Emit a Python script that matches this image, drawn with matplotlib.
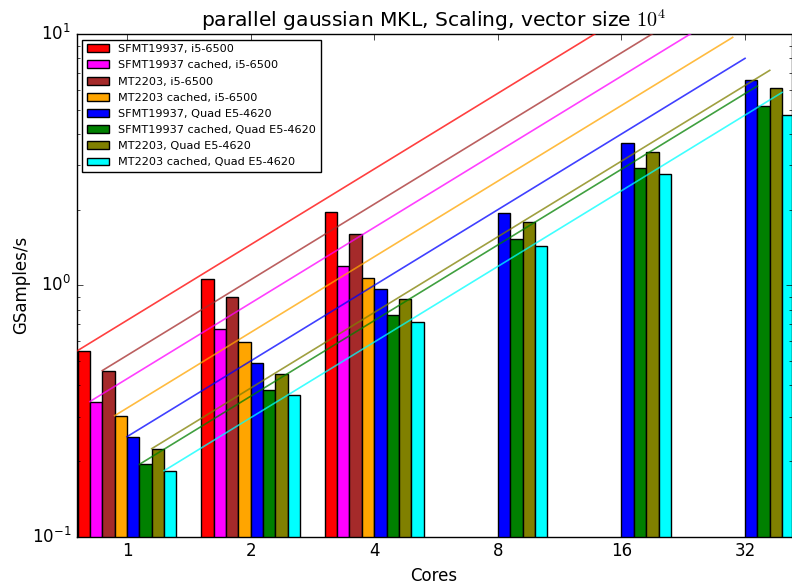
import numpy as np
import matplotlib
matplotlib.use("Agg")
import matplotlib.pyplot as plt

plt.style.use('classic')
plt.rcParams['figure.facecolor'] = 'white'
plt.rcParams['savefig.facecolor'] = 'white'

cores = [1, 2, 4, 8, 16, 32]
labels = [
    "SFMT19937, i5-6500",
    "SFMT19937 cached, i5-6500",
    "MT2203, i5-6500",
    "MT2203 cached, i5-6500",
    "SFMT19937, Quad E5-4620",
    "SFMT19937 cached, Quad E5-4620",
    "MT2203, Quad E5-4620",
    "MT2203 cached, Quad E5-4620",
]
colors = ["red", "magenta", "brown", "orange", "blue", "green", "olive", "cyan"]

sfmt_i5 = [0.55, 1.06, 1.96]
sfmt_cached_i5 = [0.345, 0.67, 1.19]
mt_i5 = [0.458, 0.90, 1.60]
mt_cached_i5 = [0.303, 0.594, 1.07]
sfmt_quad = [0.25, 0.49, 0.966, 1.94, 3.70, 6.55]
sfmt_cached_quad = [0.194, 0.383, 0.764, 1.53, 2.92, 5.17]
mt_quad = [0.224, 0.443, 0.884, 1.78, 3.40, 6.08]
mt_cached_quad = [0.183, 0.365, 0.718, 1.43, 2.77, 4.75]

series = [sfmt_i5, sfmt_cached_i5, mt_i5, mt_cached_i5,
          sfmt_quad, sfmt_cached_quad, mt_quad, mt_cached_quad]

W, H = 792, 584
fig = plt.figure(figsize=(W / 100, H / 100), dpi=100)
ax = fig.add_axes([76.7 / W, 1 - 536.7 / H, (791.5 - 76.7) / W, (536.7 - 34) / H])

pos = np.arange(len(cores))
width = 0.1
cores_arr = np.array(cores, dtype=float)
for k, (vals, col, lab) in enumerate(zip(series, colors, labels)):
    x = pos[:len(vals)] - 0.4 + k * width
    ax.bar(x, vals, width=width, align='edge', color=col, edgecolor='black',
           linewidth=1, label=lab, zorder=2)
    # ideal linear scaling from the 1-core value
    xl = pos - 0.4 + k * width
    ax.plot(xl, vals[0] * cores_arr / cores_arr[0], color=col, lw=1.2,
            alpha=0.75, zorder=3)

ax.set_yscale('log')
ax.set_ylim(0.1, 10)
ax.set_xlim(-0.407, 5.376)
ax.set_xticks(pos)
ax.set_xticklabels([str(c) for c in cores])
ax.tick_params(axis='both', which='both', direction='in', top=True, right=True)
ax.set_xlabel("Cores")
ax.set_ylabel("GSamples/s", labelpad=1)
ax.set_title(r"parallel gaussian MKL, Scaling, vector size $10^4$", fontsize=14.6)
ax.legend(loc='upper left', fontsize=8.1, fancybox=False, frameon=True,
          labelspacing=0.55)

fig.savefig("out.png", dpi=100)
